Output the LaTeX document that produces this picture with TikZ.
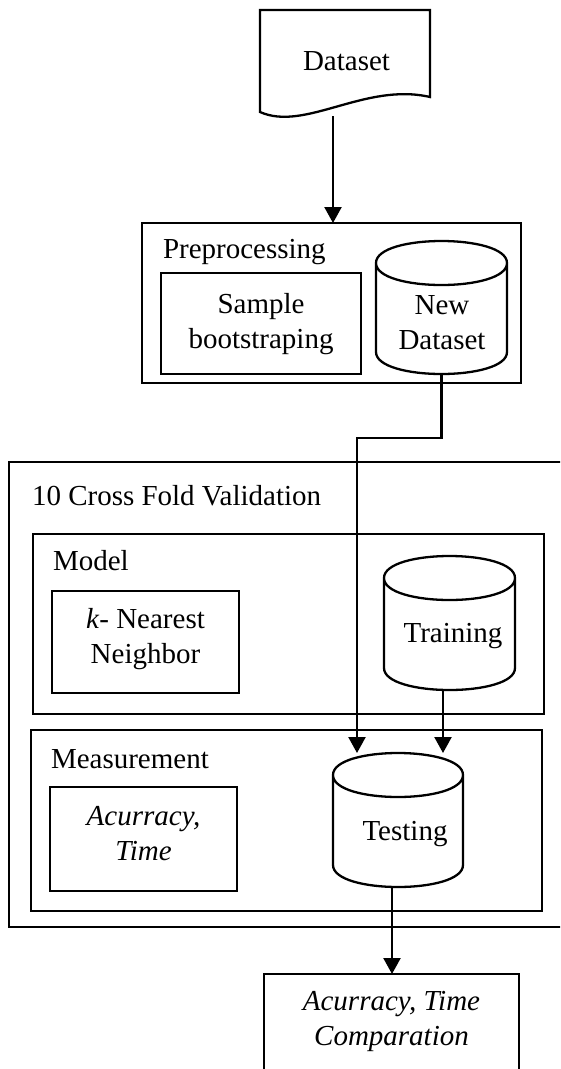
\documentclass[tikz,border=0pt]{standalone}
\usepackage{fontspec}
\setmainfont{Liberation Serif}
\usetikzlibrary{arrows.meta}
\newcommand\mycyl[1]{%
 \draw[line] ([yshift=-22pt]#1.north west) .. controls ([yshift=7.33pt]#1.north west) and ([yshift=7.33pt]#1.north east) .. ([yshift=-22pt]#1.north east)
   .. controls ([yshift=-51.33pt]#1.north east) and ([yshift=-51.33pt]#1.north west) .. ([yshift=-22pt]#1.north west)
   -- ([yshift=22pt]#1.south west)
   .. controls ([yshift=-7.33pt]#1.south west) and ([yshift=-7.33pt]#1.south east) .. ([yshift=22pt]#1.south east)
   -- ([yshift=-22pt]#1.north east);}
\begin{document}
\begin{tikzpicture}[x=1pt,y=-1pt,
  line/.style={line width=2.3pt,black},
  box/.style={draw,line width=2.3pt,inner sep=0pt,outer sep=0pt,rectangle},
  holder/.style={inner sep=0pt,outer sep=0pt,rectangle},
  txt/.style={font=\fontsize{29}{35}\selectfont,inner sep=0pt,outer sep=0pt},
  mtxt/.style={txt,align=center},
  arr/.style={line,-{Triangle[width=17pt,length=16pt]}}]
\useasboundingbox (0,0) rectangle (560,1069);
\clip (0,0) rectangle (560,1069);
% Dataset document shape
\node[holder,minimum width=170pt,minimum height=102pt] (ds) at (345,61) {};
\draw[line] (ds.north west) -- (ds.north east) -- ([yshift=-87pt]ds.north east)
  .. controls (365,82) and (305,132) .. (ds.south west) -- cycle;
\node[txt,anchor=base] (dsT) at (346.5,70) {Dataset};
\coordinate (dsout) at (333,116);
% Preprocessing
\node[box,minimum width=379pt,minimum height=160pt] (pre) at (331.5,303) {};
\node[txt,anchor=base west] (preT) at (163,258) {Preprocessing};
\node[box,minimum width=200pt,minimum height=101pt] (sample) at (261,323.5) {};
\node[mtxt] (sampleT) at (261,323.7) {Sample\\bootstraping};
\node[holder,minimum width=131pt,minimum height=133pt] (newds) at (441.5,307.5) {};
\mycyl{newds}
\node[mtxt] (newdsT) at (442,322.9) {New\\Dataset};
% 10 Cross Fold Validation
\node[box,minimum width=566pt,minimum height=465pt] (cfv) at (292,694.5) {};
\node[txt,anchor=base west] (cfvT) at (32,505) {10 Cross Fold Validation};
% Model
\node[box,minimum width=511pt,minimum height=180pt] (model) at (288.5,624) {};
\node[txt,anchor=base west] (modelT) at (53,570) {Model};
\node[box,minimum width=187pt,minimum height=102pt] (knn) at (145.5,642) {};
\node[mtxt] (knnT) at (145.5,638.7) {\textit{k}- Nearest\\Neighbor};
\node[holder,minimum width=131pt,minimum height=134pt] (train) at (449.5,623) {};
\mycyl{train}
\node[txt,anchor=base] (trainT) at (453,642) {Training};
% Measurement
\node[box,minimum width=511pt,minimum height=181pt] (meas) at (286.5,820.5) {};
\node[txt,anchor=base west] (measT) at (51,768) {Measurement};
\node[box,minimum width=187pt,minimum height=104pt] (acc) at (143.5,839) {};
\node[mtxt] (accT) at (143.5,833.8) {\textit{Acurracy,}\\\textit{Time}};
\node[holder,minimum width=130pt,minimum height=134pt] (test) at (398,820) {};
\mycyl{test}
\node[txt,anchor=base] (testT) at (405,840) {Testing};
% Final
\node[box,minimum width=255pt,minimum height=126pt] (final) at (391.5,1037) {};
\node[mtxt] (finalT) at (391.5,1021) {\textit{Acurracy, Time}\\\textit{Comparation}};
% connectors
\coordinate (bend) at (357,438);
\draw[arr] (dsout) -- (dsout |- pre.north);
\draw[arr] (newds.south) |- (bend) -- (bend |- test.north);
\draw[arr] ([xshift=-6.5pt]train.south) -- ([xshift=-6.5pt]train.south |- test.north);
\draw[arr] ([xshift=-6pt]test.south) -- ([xshift=-6pt]test.south |- final.north);
\end{tikzpicture}
\end{document}
